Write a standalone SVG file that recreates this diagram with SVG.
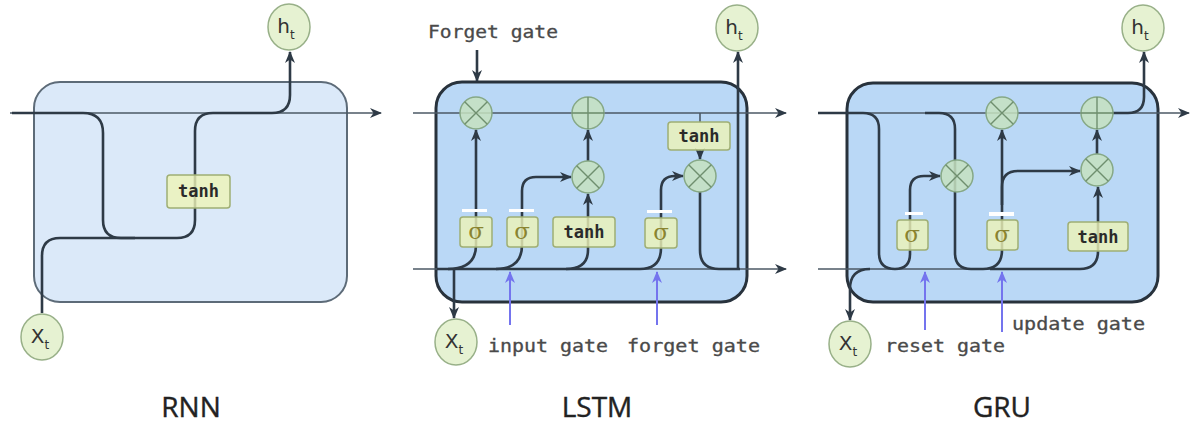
<svg xmlns="http://www.w3.org/2000/svg" width="1199" height="428" viewBox="0 0 1199 428">
<defs>
<marker id="ah" viewBox="0 0 12 10" refX="11" refY="5" markerWidth="12" markerHeight="10" markerUnits="userSpaceOnUse" orient="auto"><path d="M0,0 L12,5 L0,10 L3.5,5 z" fill="#2e3a46"/></marker>
<marker id="ahb" viewBox="0 0 12 10" refX="11" refY="5" markerWidth="12" markerHeight="10" markerUnits="userSpaceOnUse" orient="auto"><path d="M0,0 L12,5 L0,10 L3.5,5 z" fill="#7474ee"/></marker>
<style>
.cellL{fill:#dbe9f9;stroke:#5d6b78;stroke-width:2}
.cell{fill:#bad8f6;stroke:#28323c;stroke-width:3}
.thin{fill:none;stroke:#4b5864;stroke-width:1.6}
.thick{fill:none;stroke:#2e3a46;stroke-width:2.6}
.blue{fill:none;stroke:#7474ee;stroke-width:2}
.op{fill:#c6e2bf;fill-opacity:0.85;stroke:#86a886;stroke-width:1.5}
.opl{stroke:#6f8f6f;stroke-width:1.4}
.yb{fill:#eef4b6;fill-opacity:0.8;stroke:#9fae74;stroke-width:1.5}
.wm{fill:#ffffff}
.io{fill:#e6f2d2;stroke:#98b088;stroke-width:1.5}
.mono{font-family:"DejaVu Sans Mono","Liberation Mono",monospace;fill:#4a4a4a;stroke:#4a4a4a;stroke-width:0.3}
.fn{font-family:"DejaVu Sans Mono","Liberation Mono",monospace;font-size:17px;font-weight:bold;fill:#2a2a2a;text-anchor:middle}
.sg{font-family:"DejaVu Serif","Liberation Serif",serif;font-size:23px;fill:#8a8430;text-anchor:middle}
.var{font-family:"DejaVu Sans","Liberation Sans",sans-serif;font-size:20px;fill:#333;text-anchor:middle}
.title{font-family:"Open Sans","DejaVu Sans",sans-serif;font-size:28px;fill:#222;stroke:#222;stroke-width:0.4;text-anchor:middle}
</style>
</defs>
<rect width="1199" height="428" fill="#ffffff"/>

<!-- cell backgrounds -->
<g id="rnn-cell"><rect class="cellL" x="34" y="82" width="313" height="220" rx="26"/></g>
<g id="lstm-cell"><rect class="cell" x="436" y="82" width="311" height="220" rx="26"/></g>
<g id="gru-cell"><rect class="cell" x="847" y="83" width="311" height="219" rx="26"/></g>

<!-- connectors -->
<g id="connectors">
  <!-- RNN -->
  <path class="thin" d="M10,113 H381" marker-end="url(#ah)"/>
  <path class="thick" d="M12,113 H83 Q103,113 103,133 V220 Q103,238 121,238 H177 Q195,238 195,220 V131 Q195,113 213,113 H272 Q290,113 290,95 V52" marker-end="url(#ah)"/>
  <path class="thick" d="M42,313 V256 Q42,238 60,238 H135"/>
  <!-- LSTM -->
  <path class="thin" d="M413,113 H786" marker-end="url(#ah)"/>
  <path class="thin" d="M413,269 H786" marker-end="url(#ah)"/>
  <path class="thick" d="M477,50 V81" marker-end="url(#ah)"/>
  <path class="thick" d="M437,269 H640 Q661,269 661,248"/>
  <path class="thick" d="M448,269 Q476,269 476,245 V130" marker-end="url(#ah)"/>
  <path class="thick" d="M496,269 Q522,269 522,245 V191 Q522,177 536,177 H571" marker-end="url(#ah)"/>
  <path class="thick" d="M566,269 Q588,269 588,250 V194" marker-end="url(#ah)"/>
  <path class="thick" d="M588,161 V130" marker-end="url(#ah)"/>
  <path class="thick" d="M661,248 V190 Q661,176 675,176 H683" marker-end="url(#ah)"/>
  <path class="thin" d="M700,113 V122"/>
  <path class="thick" d="M700,150 V159" marker-end="url(#ah)"/>
  <path class="thick" d="M700,192 V250 Q700,269 719,269 H740"/>
  <path class="thick" d="M738,269 V52" marker-end="url(#ah)"/>
  <path class="thick" d="M454,269 V318" marker-end="url(#ah)"/>
  <path class="blue" d="M510,325 V272" marker-end="url(#ahb)"/>
  <path class="blue" d="M657,325 V272" marker-end="url(#ahb)"/>
  <!-- GRU -->
  <path class="thin" d="M818,113 H1189" marker-end="url(#ah)"/>
  <path class="thin" d="M818,269 H1000"/>
  <path class="thick" d="M818,113 H863 Q879,113 879,129 V253 Q879,269 895,269 Q910,269 910,254 V190 Q910,176 924,176 H940" marker-end="url(#ah)"/>
  <path class="thick" d="M925,113 H939 Q955,113 955,129 V253 Q955,269 971,269 H983 Q1002,269 1002,250 V130" marker-end="url(#ah)"/>
  <path class="thick" d="M1002,205 V187 Q1002,171 1018,171 H1080" marker-end="url(#ah)"/>
  <path class="thick" d="M990,269 H1080 Q1098,269 1098,251 V187" marker-end="url(#ah)"/>
  <path class="thick" d="M1097,154 V130" marker-end="url(#ah)"/>
  <path class="thick" d="M1113,113 H1128 Q1144,113 1144,97 V52" marker-end="url(#ah)"/>
  <path class="thick" d="M870,269 Q850,269 850,289 V320" marker-end="url(#ah)"/>
  <path class="blue" d="M925,330 V272" marker-end="url(#ahb)"/>
  <path class="blue" d="M1002,332 V272" marker-end="url(#ahb)"/>
</g>

<!-- RNN nodes -->
<g id="rnn-tanh"><rect class="yb" x="167" y="175" width="63" height="33" rx="3"/><text class="fn" x="198.5" y="197">tanh</text></g>
<g id="rnn-ht"><ellipse class="io" cx="289" cy="27" rx="21" ry="23"/><text class="var" x="286" y="33">h<tspan font-size="12" dy="6">t</tspan></text></g>
<g id="rnn-xt"><ellipse class="io" cx="42" cy="337" rx="21" ry="23"/><text class="var" x="40" y="343">X<tspan font-size="12" dy="6">t</tspan></text></g>

<!-- LSTM nodes -->
<g id="lstm-forget-label"><text class="mono" x="428" y="38" font-size="17" textLength="130" lengthAdjust="spacingAndGlyphs">Forget gate</text></g>
<g id="lstm-mul-forget"><circle class="op" cx="476" cy="113" r="16"/><path class="opl" d="M464.7,101.7 L487.3,124.3 M487.3,101.7 L464.7,124.3"/></g>
<g id="lstm-add"><circle class="op" cx="588" cy="113" r="16"/><path class="opl" d="M572,113 H604 M588,97 V129"/></g>
<g id="lstm-mul-input"><circle class="op" cx="588" cy="177" r="16"/><path class="opl" d="M576.7,165.7 L599.3,188.3 M599.3,165.7 L576.7,188.3"/></g>
<g id="lstm-mul-output"><circle class="op" cx="700" cy="176" r="16"/><path class="opl" d="M688.7,164.7 L711.3,187.3 M711.3,164.7 L688.7,187.3"/></g>
<g id="lstm-tanh-out"><rect class="yb" x="668" y="122" width="62" height="28" rx="3"/><text class="fn" x="699" y="142">tanh</text></g>
<g id="lstm-sigma1"><rect class="wm" x="462" y="209" width="25" height="3"/><rect class="yb" x="460" y="217" width="32" height="30" rx="3"/><text class="sg" x="476" y="239">σ</text></g>
<g id="lstm-sigma2"><rect class="wm" x="509" y="209" width="25" height="3"/><rect class="yb" x="507" y="217" width="31" height="30" rx="3"/><text class="sg" x="522" y="239">σ</text></g>
<g id="lstm-tanh-in"><rect class="yb" x="553" y="217" width="62" height="30" rx="3"/><text class="fn" x="584" y="238">tanh</text></g>
<g id="lstm-sigma3"><rect class="wm" x="647" y="210" width="25" height="3"/><rect class="yb" x="645" y="218" width="32" height="30" rx="3"/><text class="sg" x="661" y="240">σ</text></g>
<g id="lstm-ht"><ellipse class="io" cx="737" cy="28" rx="21" ry="23"/><text class="var" x="734" y="34">h<tspan font-size="12" dy="6">t</tspan></text></g>
<g id="lstm-xt"><ellipse class="io" cx="456" cy="342" rx="21" ry="23"/><text class="var" x="454" y="348">X<tspan font-size="12" dy="6">t</tspan></text></g>
<g id="lstm-input-label"><text class="mono" x="488" y="352" font-size="17" textLength="120" lengthAdjust="spacingAndGlyphs">input gate</text></g>
<g id="lstm-forget-label2"><text class="mono" x="627" y="352" font-size="17" textLength="133" lengthAdjust="spacingAndGlyphs">forget gate</text></g>

<!-- GRU nodes -->
<g id="gru-mul-top"><circle class="op" cx="1002" cy="113" r="16"/><path class="opl" d="M990.7,101.7 L1013.3,124.3 M1013.3,101.7 L990.7,124.3"/></g>
<g id="gru-add"><circle class="op" cx="1097" cy="113" r="16"/><path class="opl" d="M1081,113 H1113 M1097,97 V129"/></g>
<g id="gru-mul-reset"><circle class="op" cx="957" cy="176" r="16"/><path class="opl" d="M945.7,164.7 L968.3,187.3 M968.3,164.7 L945.7,187.3"/></g>
<g id="gru-mul-update"><circle class="op" cx="1097" cy="170" r="16"/><path class="opl" d="M1085.7,158.7 L1108.3,181.3 M1108.3,158.7 L1085.7,181.3"/></g>
<g id="gru-sigma1"><rect class="wm" x="905" y="212" width="18" height="3"/><rect class="yb" x="897" y="220" width="31" height="30" rx="3"/><text class="sg" x="912" y="242">σ</text></g>
<g id="gru-sigma2"><rect class="wm" x="989" y="212" width="25" height="4"/><rect class="yb" x="987" y="220" width="31" height="30" rx="3"/><text class="sg" x="1002" y="242">σ</text></g>
<g id="gru-tanh"><rect class="yb" x="1068" y="222" width="60" height="29" rx="3"/><text class="fn" x="1098" y="243">tanh</text></g>
<g id="gru-ht"><ellipse class="io" cx="1143" cy="28" rx="21" ry="23"/><text class="var" x="1140" y="34">h<tspan font-size="12" dy="6">t</tspan></text></g>
<g id="gru-xt"><ellipse class="io" cx="850" cy="344" rx="21" ry="23"/><text class="var" x="848" y="350">X<tspan font-size="12" dy="6">t</tspan></text></g>
<g id="gru-reset-label"><text class="mono" x="885" y="352" font-size="17" textLength="120" lengthAdjust="spacingAndGlyphs">reset gate</text></g>
<g id="gru-update-label"><text class="mono" x="1012" y="330" font-size="17" textLength="133" lengthAdjust="spacingAndGlyphs">update gate</text></g>

<!-- titles -->
<g id="title-rnn"><text class="title" x="191" y="417">RNN</text></g>
<g id="title-lstm"><text class="title" x="597" y="417">LSTM</text></g>
<g id="title-gru"><text class="title" x="1002" y="417">GRU</text></g>
</svg>
